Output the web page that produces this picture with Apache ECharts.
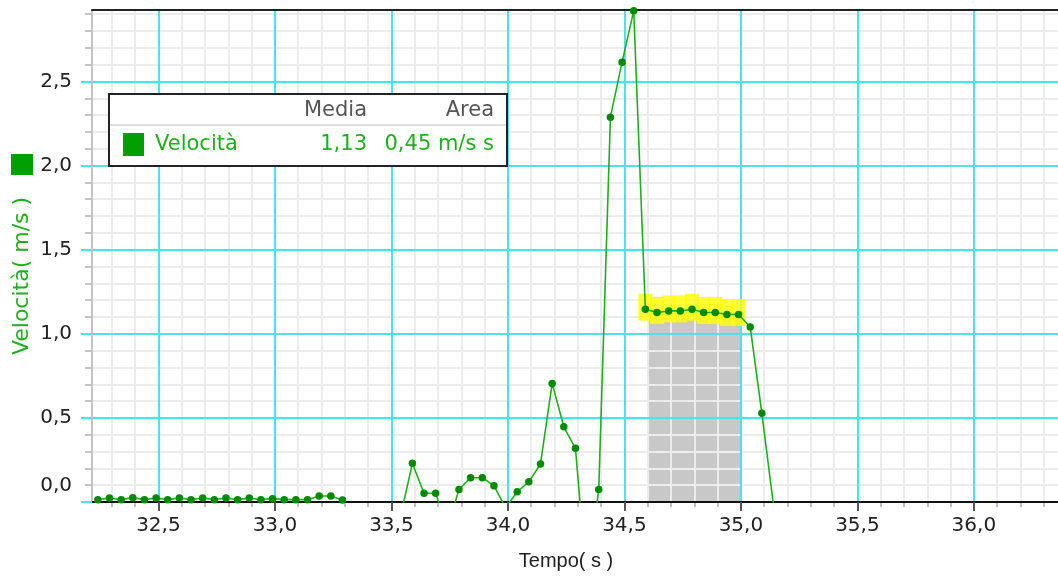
<!DOCTYPE html>
<html>
<head>
<meta charset="utf-8">
<title>Velocità</title>
<script src="https://cdn.jsdelivr.net/npm/echarts@6/dist/echarts.min.js"></script>
<style>
  html, body { margin: 0; padding: 0; background: #fff; }
  #chart { width: 1058px; height: 579px; }
</style>
</head>
<body>
<div id="chart"></div>
<script>
// campioni (s) e velocità (m/s)
const tempi = [
  32.24, 32.29, 32.34, 32.39, 32.44, 32.49, 32.54, 32.59, 32.64, 32.69, 32.74,
  32.79, 32.84, 32.89, 32.94, 32.99, 33.04, 33.09, 33.14, 33.19, 33.24, 33.29,
  33.34, 33.39, 33.44, 33.49, 33.54,
  33.59, 33.64, 33.69, 33.74, 33.79, 33.84, 33.89, 33.94, 33.99, 34.04,
  34.09, 34.14, 34.19, 34.24, 34.29, 34.34, 34.39, 34.44, 34.49, 34.54,
  34.59, 34.64, 34.69, 34.74, 34.79, 34.84, 34.89, 34.94, 34.99,
  35.04, 35.09, 35.14
]
const velocita = [
  0.014, 0.024, 0.014, 0.026, 0.014, 0.024, 0.014, 0.024, 0.014, 0.024, 0.014,
  0.024, 0.014, 0.024, 0.014, 0.02, 0.014, 0.014, 0.014, 0.036, 0.036, 0.012,
  -0.12, -0.1, -0.1, -0.1, -0.08,
  0.23, 0.052, 0.052, -0.16, 0.075, 0.144, 0.144, 0.097, -0.035, 0.061,
  0.12, 0.226, 0.705, 0.447, 0.319, -0.5, 0.075, 2.288, 2.615, 2.92,
  1.146, 1.127, 1.136, 1.136, 1.146, 1.127, 1.127, 1.115, 1.115,
  1.041, 0.527, -0.02
]
// punti selezionati (indici nel set) e intervallo di integrazione
const selezione = [47, 56]
const intervallo = [34.6, 35.0]
const media = 1.13
const area = 0.45

const xTicks = [32.5, 33.0, 33.5, 34.0, 34.5, 35.0, 35.5, 36.0]
const yTicks = [0, 0.5, 1.0, 1.5, 2.0, 2.5]
const xRange = [32.215, 36.361]
const yRange = [0, 2.925]

const FONT = '"DejaVu Sans", Verdana, sans-serif'
const VERDE = '#1fae1f'
const CIANO = '#4ae2f0'
const GRIGIO = '#ececec'

const virgola = v => v.toFixed(1).replace('.', ',')

// tacche secondarie ogni 0,1
function minori(lo, hi) {
  const out = []
  for (let i = Math.ceil(lo * 10); i <= Math.floor(hi * 10); i++) {
    if (i % 5 !== 0) out.push(i / 10)
  }
  return out
}
const xMinor = minori(xRange[0], xRange[1])
const yMinor = minori(yRange[0], yRange[1])

const punti = tempi.map((t, i) => [t, velocita[i]])
const evidenziati = punti.slice(selezione[0], selezione[1])

const chart = echarts.init(document.getElementById('chart'))

const testo = (x, y, text, fill, size, align) => ({
  type: 'text', z: 100, x: x, y: y,
  style: { text: text, fill: fill, font: size + 'px ' + FONT, align: align, verticalAlign: 'middle' }
})

chart.setOption({
  animation: false,
  backgroundColor: '#fff',
  grid: { left: 92, top: 10, right: 0, bottom: 77, outerBoundsMode: 'none' },
  xAxis: [
    {
      type: 'value', position: 'bottom', min: xRange[0], max: xRange[1], z: 2,
      axisLine: { show: true, lineStyle: { color: '#111', width: 2 } },
      axisTick: { show: true, customValues: xTicks, length: 9, lineStyle: { color: '#555', width: 2 } },
      axisLabel: {
        customValues: xTicks, formatter: virgola, margin: 14,
        fontSize: 20, fontFamily: FONT, color: '#222'
      },
      splitLine: { show: true, lineStyle: { color: CIANO, width: 2 } },
      name: 'Tempo( s )', nameLocation: 'middle', nameGap: 49,
      nameTextStyle: { fontSize: 20, fontFamily: 'Liberation Sans, Arial, sans-serif', color: '#222', padding: [0, 18, 0, 0] }
    },
    {
      type: 'value', position: 'bottom', min: xRange[0], max: xRange[1], z: 1,
      axisLine: { show: false },
      axisTick: { show: true, customValues: xMinor, length: 5, lineStyle: { color: '#aaa', width: 1.5 } },
      axisLabel: { show: false },
      splitLine: { show: true, lineStyle: { color: GRIGIO, width: 2 } }
    },
    {
      type: 'value', position: 'top', min: xRange[0], max: xRange[1], z: 2,
      axisLine: { show: true, lineStyle: { color: '#222', width: 2 } },
      axisTick: { show: false }, axisLabel: { show: false }, splitLine: { show: false }
    }
  ],
  yAxis: [
    {
      type: 'value', position: 'left', min: yRange[0], max: yRange[1], z: 2,
      axisLine: { show: true, lineStyle: { color: '#c4c4c4', width: 2 } },
      axisTick: { show: true, customValues: yTicks, length: 11, lineStyle: { color: CIANO, width: 2 } },
      axisLabel: {
        customValues: yTicks, margin: 20, fontSize: 20, fontFamily: FONT, color: '#222',
        formatter: v => v === 0 ? '{z|0,0}' : virgola(v),
        rich: { z: { fontSize: 20, fontFamily: FONT, color: '#222', padding: [0, 0, 33, 0] } }
      },
      splitLine: { show: true, lineStyle: { color: CIANO, width: 2 } }
    },
    {
      type: 'value', position: 'left', min: yRange[0], max: yRange[1], z: 1,
      axisLine: { show: false },
      axisTick: { show: true, customValues: yMinor, length: 7, lineStyle: { color: '#b4b4b4', width: 1.5 } },
      axisLabel: { show: false },
      splitLine: { show: true, lineStyle: { color: GRIGIO, width: 2 } }
    }
  ],
  series: [
    {
      // area integrata
      type: 'line', xAxisIndex: 0, yAxisIndex: 0, z: 0, silent: true,
      data: [[intervallo[0], media], [intervallo[1], media]],
      symbol: 'none', lineStyle: { width: 0 },
      areaStyle: { color: '#c8c8c8', opacity: 1 }
    },
    {
      // punti selezionati
      type: 'scatter', xAxisIndex: 0, yAxisIndex: 0, z: 3, silent: true,
      data: evidenziati, symbol: 'rect', symbolSize: [14, 27], symbolOffset: [0, -2],
      itemStyle: { color: '#ffff00' }
    },
    {
      name: 'Velocità', type: 'line', xAxisIndex: 0, yAxisIndex: 0, z: 4,
      data: punti, showAllSymbol: true, symbol: 'circle', symbolSize: 7.5,
      itemStyle: { color: '#008a00' },
      lineStyle: { color: VERDE, width: 1.6 }
    }
  ],
  graphic: [
    // titolo asse y
    { type: 'rect', z: 100, shape: { x: 11, y: 154, width: 22, height: 21 }, style: { fill: '#00a000' } },
    {
      type: 'text', z: 100, x: 22, y: 276, rotation: Math.PI / 2,
      style: { text: 'Velocità( m/s )', fill: VERDE, font: '22px ' + FONT, align: 'center', verticalAlign: 'middle' }
    },
    // tabella
    { type: 'rect', z: 100, shape: { x: 109, y: 94, width: 398, height: 72 }, style: { fill: '#fff', stroke: '#222', lineWidth: 2 } },
    { type: 'line', z: 101, shape: { x1: 110, y1: 125, x2: 506, y2: 125 }, style: { stroke: '#d4d4d4', lineWidth: 1.5 } },
    testo(367, 111, 'Media', '#555', 21, 'right'),
    testo(494, 111, 'Area', '#555', 21, 'right'),
    { type: 'rect', z: 101, shape: { x: 123, y: 133, width: 21, height: 23 }, style: { fill: '#00a000' } },
    testo(155, 145, 'Velocità', VERDE, 21, 'left'),
    testo(367, 145, media.toFixed(2).replace('.', ','), VERDE, 21, 'right'),
    testo(494, 145, area.toFixed(2).replace('.', ',') + ' m/s s', VERDE, 21, 'right')
  ]
})
</script>
</body>
</html>
